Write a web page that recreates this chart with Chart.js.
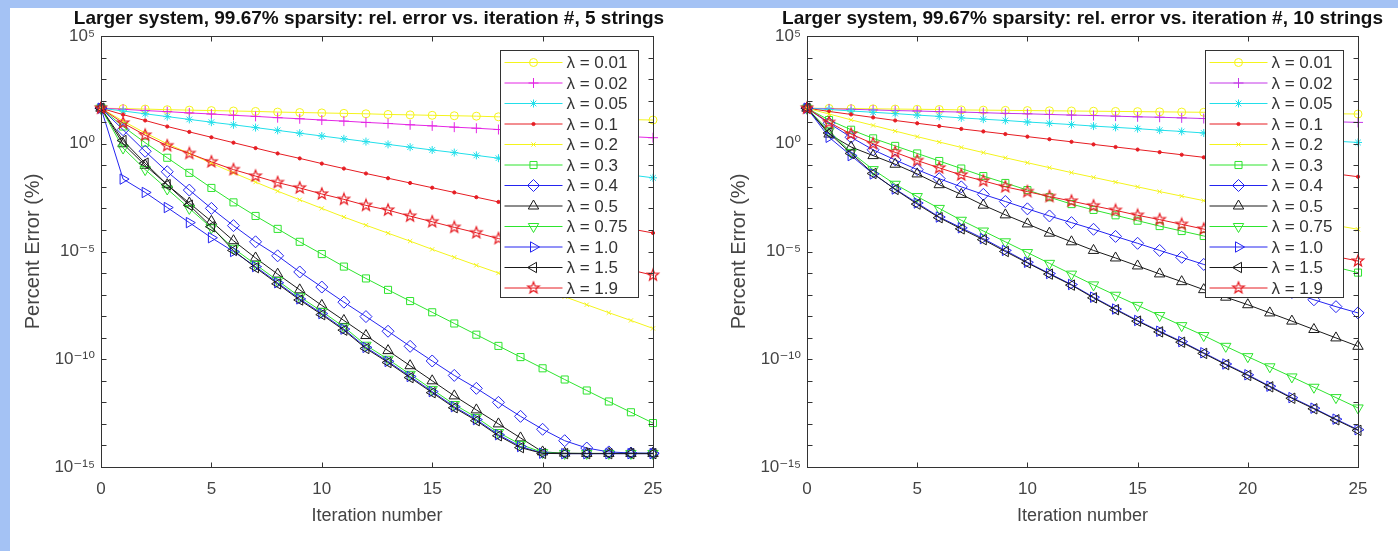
<!DOCTYPE html>
<html>
<head>
<meta charset="utf-8">
<script src="https://cdn.jsdelivr.net/npm/chart.js@4.4.0/dist/chart.umd.min.js"></script>
<style>
  html, body { margin: 0; padding: 0; }
  body { width: 1398px; height: 551px; background: #a4c2f4; position: relative; overflow: hidden; }
  #sheet { position: absolute; left: 10px; top: 8px; right: 0; bottom: 0; background: #fff; }
  canvas { position: absolute; top: 0; }
  #left { left: 0; }
  #right { left: 700px; }
</style>
</head>
<body>
<div id="sheet"></div>
<canvas id="left" width="700" height="551"></canvas>
<canvas id="right" width="698" height="551"></canvas>
<script>
// iteration numbers on the x axis
const iterations = [0, 1, 2, 3, 4, 5, 6, 7, 8, 9, 10, 11, 12, 13, 14, 15, 16, 17, 18, 19, 20, 21, 22, 23, 24, 25];
const lambdas = ['0.01', '0.02', '0.05', '0.1', '0.2', '0.3', '0.4', '0.5', '0.75', '1.0', '1.5', '1.9'];

// log10 of the percent error -- 5 strings
const s5_001 = [1.65, 1.63, 1.61, 1.58, 1.56, 1.54, 1.52, 1.5, 1.47, 1.45, 1.43, 1.41, 1.39, 1.36, 1.34, 1.32, 1.3, 1.28, 1.25, 1.23, 1.21, 1.19, 1.17, 1.14, 1.12, 1.1];
const s5_002 = [1.65, 1.6, 1.54, 1.49, 1.43, 1.38, 1.32, 1.27, 1.21, 1.16, 1.1, 1.05, 0.99, 0.94, 0.88, 0.83, 0.77, 0.72, 0.66, 0.61, 0.55, 0.5, 0.44, 0.39, 0.33, 0.28];
const s5_005 = [1.65, 1.52, 1.39, 1.26, 1.13, 1.0, 0.88, 0.75, 0.62, 0.49, 0.36, 0.23, 0.1, -0.03, -0.16, -0.29, -0.41, -0.54, -0.67, -0.8, -0.93, -1.06, -1.19, -1.32, -1.45, -1.58];
const s5_01 = [1.65, 1.35, 1.08, 0.8, 0.55, 0.3, 0.05, -0.2, -0.45, -0.68, -0.92, -1.15, -1.38, -1.6, -1.82, -2.04, -2.26, -2.48, -2.7, -2.92, -3.13, -3.34, -3.55, -3.75, -3.95, -4.14];
const s5_02 = [1.65, 1.05, 0.5, 0.0, -0.45, -0.9, -1.35, -1.78, -2.2, -2.6, -3.0, -3.4, -3.78, -4.15, -4.52, -4.9, -5.27, -5.64, -6.0, -6.37, -6.74, -7.1, -7.47, -7.84, -8.2, -8.57];
const s5_03 = [1.65, 0.8, 0.05, -0.65, -1.35, -2.05, -2.72, -3.35, -3.95, -4.55, -5.12, -5.7, -6.25, -6.78, -7.3, -7.82, -8.34, -8.86, -9.38, -9.9, -10.42, -10.94, -11.45, -11.96, -12.46, -12.96];
const s5_04 = [1.65, 0.65, -0.35, -1.3, -2.15, -3.0, -3.8, -4.55, -5.2, -5.95, -6.65, -7.35, -8.02, -8.7, -9.4, -10.08, -10.75, -11.35, -12.0, -12.65, -13.25, -13.78, -14.12, -14.3, -14.35, -14.36];
const s5_05 = [1.65, 0.0, -1.0, -1.9, -2.75, -3.6, -4.5, -5.3, -6.05, -6.78, -7.5, -8.2, -8.9, -9.6, -10.3, -11.0, -11.7, -12.35, -13.0, -13.65, -14.3, -14.36, -14.37, -14.37, -14.37, -14.37];
const s5_075 = [1.65, -0.2, -1.2, -2.1, -3.0, -3.9, -4.85, -5.6, -6.35, -7.1, -7.78, -8.5, -9.35, -10.0, -10.7, -11.4, -12.1, -12.7, -13.4, -13.95, -14.33, -14.37, -14.37, -14.37, -14.37, -14.37];
const s5_10 = [1.65, -1.64, -2.26, -2.96, -3.66, -4.36, -5.0, -5.7, -6.45, -7.2, -7.88, -8.6, -9.45, -10.1, -10.8, -11.5, -12.2, -12.8, -13.5, -14.05, -14.36, -14.38, -14.38, -14.38, -14.38, -14.38];
const s5_15 = [1.65, 0.15, -0.9, -1.9, -2.85, -3.85, -4.95, -5.75, -6.5, -7.25, -7.93, -8.65, -9.5, -10.15, -10.85, -11.55, -12.25, -12.85, -13.55, -14.1, -14.37, -14.38, -14.38, -14.38, -14.38, -14.38];
const s5_19 = [1.65, 0.96, 0.4, -0.09, -0.45, -0.84, -1.2, -1.5, -1.8, -2.05, -2.33, -2.58, -2.86, -3.08, -3.36, -3.62, -3.88, -4.13, -4.4, -4.65, -4.9, -5.14, -5.38, -5.62, -5.86, -6.1];

// log10 of the percent error -- 10 strings
const s10_001 = [1.65, 1.64, 1.63, 1.62, 1.61, 1.6, 1.59, 1.57, 1.56, 1.55, 1.54, 1.53, 1.52, 1.51, 1.5, 1.49, 1.48, 1.47, 1.46, 1.44, 1.43, 1.42, 1.41, 1.4, 1.39, 1.38];
const s10_002 = [1.65, 1.62, 1.6, 1.57, 1.54, 1.52, 1.49, 1.47, 1.44, 1.41, 1.39, 1.36, 1.33, 1.31, 1.28, 1.25, 1.23, 1.2, 1.17, 1.15, 1.12, 1.1, 1.07, 1.04, 1.02, 0.99];
const s10_005 = [1.65, 1.59, 1.52, 1.46, 1.4, 1.33, 1.27, 1.2, 1.14, 1.08, 1.01, 0.95, 0.89, 0.82, 0.76, 0.7, 0.63, 0.57, 0.5, 0.44, 0.38, 0.31, 0.25, 0.19, 0.12, 0.06];
const s10_01 = [1.65, 1.5, 1.36, 1.22, 1.08, 0.95, 0.82, 0.69, 0.57, 0.45, 0.33, 0.21, 0.09, -0.03, -0.15, -0.27, -0.39, -0.51, -0.63, -0.75, -0.88, -1.01, -1.14, -1.27, -1.4, -1.53];
const s10_02 = [1.65, 1.38, 1.11, 0.85, 0.59, 0.33, 0.08, -0.17, -0.41, -0.65, -0.88, -1.11, -1.34, -1.56, -1.78, -2.0, -2.22, -2.43, -2.64, -2.84, -3.04, -3.23, -3.42, -3.61, -3.79, -3.97];
const s10_03 = [1.65, 1.1, 0.65, 0.25, -0.1, -0.45, -0.8, -1.15, -1.5, -1.82, -2.15, -2.48, -2.8, -3.07, -3.32, -3.57, -3.82, -4.05, -4.28, -4.52, -4.76, -5.0, -5.24, -5.48, -5.73, -5.98];
const s10_04 = [1.65, 0.95, 0.3, -0.28, -0.75, -1.2, -1.62, -2.0, -2.35, -2.68, -3.02, -3.35, -3.66, -3.97, -4.3, -4.62, -4.95, -5.27, -5.6, -5.92, -6.24, -6.56, -6.9, -7.24, -7.56, -7.85];
const s10_05 = [1.65, 0.45, -0.15, -0.55, -0.95, -1.4, -1.9, -2.35, -2.85, -3.3, -3.72, -4.15, -4.55, -4.95, -5.3, -5.67, -6.04, -6.4, -6.77, -7.12, -7.47, -7.85, -8.23, -8.62, -9.01, -9.4];
const s10_075 = [1.65, 0.6, -0.4, -1.2, -1.88, -2.45, -3.0, -3.55, -4.05, -4.55, -5.05, -5.55, -6.05, -6.55, -7.03, -7.5, -7.97, -8.44, -8.9, -9.4, -9.88, -10.35, -10.82, -11.3, -11.78, -12.26];
const s10_10 = [1.65, 0.3, -0.55, -1.4, -2.1, -2.75, -3.4, -3.9, -4.4, -4.95, -5.5, -6.02, -6.53, -7.12, -7.67, -8.2, -8.7, -9.18, -9.7, -10.22, -10.72, -11.25, -11.78, -12.27, -12.78, -13.27];
const s10_15 = [1.65, 0.5, -0.45, -1.38, -2.12, -2.8, -3.43, -3.95, -4.45, -5.0, -5.53, -6.05, -6.56, -7.15, -7.7, -8.23, -8.73, -9.21, -9.73, -10.25, -10.75, -11.28, -11.81, -12.3, -12.81, -13.3];
const s10_19 = [1.65, 0.99, 0.45, 0.0, -0.4, -0.78, -1.12, -1.45, -1.72, -2.0, -2.22, -2.45, -2.66, -2.88, -3.09, -3.32, -3.52, -3.74, -3.96, -4.18, -4.4, -4.62, -4.83, -5.03, -5.24, -5.44];

const yTickExponents = [5, 0, -5, -10, -15];

const strings5 = [s5_001, s5_002, s5_005, s5_01, s5_02, s5_03, s5_04, s5_05, s5_075, s5_10, s5_15, s5_19];
const strings10 = [s10_001, s10_002, s10_005, s10_01, s10_02, s10_03, s10_04, s10_05, s10_075, s10_10, s10_15, s10_19];

const FONT = '"Liberation Sans", Arial, "DejaVu Sans", sans-serif';
Chart.defaults.font.family = FONT;

function pentagram(color, r) {
    const c = document.createElement('canvas');
    const s = Math.ceil(r * 2 + 4);
    c.width = c.height = s;
    const g = c.getContext('2d');
    g.strokeStyle = color;
    g.lineWidth = 1.2;
    g.beginPath();
    for (let k = 0; k < 10; k++) {
        const a = -Math.PI / 2 + k * Math.PI / 5;
        const rr = k % 2 ? r * 0.42 : r;
        g.lineTo(s / 2 + rr * Math.cos(a), s / 2 + rr * Math.sin(a));
    }
    g.closePath();
    g.stroke();
    return c;
}

const colors5 = ['#f4f41c', '#e426e4', '#22dfea', '#e61c22', '#f4f41c', '#2ee42e', '#2424f0', '#1a1a1a', '#2ee42e', '#2424f0', '#1a1a1a', '#e61c22'];
const colors10 = ['#f4f41c', '#c436e8', '#22dfea', '#e61c22', '#f4f41c', '#2ee42e', '#2424f0', '#1a1a1a', '#2ee42e', '#2424f0', '#1a1a1a', '#e61c22'];
const markers = [
    { style: 'circle', r: 4 },
    { style: 'cross', r: 5 },
    { style: 'star', r: 4 },
    { style: 'circle', r: 1.6, fill: true },
    { style: 'crossRot', r: 3 },
    { style: 'rect', r: 5 },
    { style: 'rectRot', r: 6 },
    { style: 'triangle', r: 6 },
    { style: 'triangle', r: 6, rot: 180 },
    { style: 'triangle', r: 6, rot: 90 },
    { style: 'triangle', r: 6, rot: -90 },
    { style: pentagram('#e61c22', 6), r: 6 }
];

function supText(n) {
    const map = { '-': '\u207b', '0': '\u2070', '1': '\u00b9', '2': '\u00b2', '3': '\u00b3', '4': '\u2074', '5': '\u2075', '6': '\u2076', '7': '\u2077', '8': '\u2078', '9': '\u2079' };
    return String(n).split('').map(ch => map[ch]).join('');
}

function buildDatasets(series, colors) {
    return series.map((vals, i) => ({
        label: '\u03bb = ' + lambdas[i],
        data: iterations.map((it, k) => ({ x: it, y: vals[k] })),
        borderColor: colors[i],
        borderWidth: 1,
        pointStyle: markers[i].style,
        pointRadius: markers[i].r,
        pointRotation: markers[i].rot || 0,
        pointBorderColor: colors[i],
        pointBackgroundColor: markers[i].fill ? colors[i] : 'rgba(0,0,0,0)',
        pointBorderWidth: 1,
        tension: 0,
        clip: false,
        order: -i
    }));
}

function drawMarker(ctx, i, color, x, y) {
    const m = markers[i];
    ctx.strokeStyle = color;
    ctx.fillStyle = m.fill ? color : 'rgba(0,0,0,0)';
    ctx.lineWidth = 1;
    if (Chart.helpers && Chart.helpers.drawPoint) {
        Chart.helpers.drawPoint(ctx, { pointStyle: m.style, rotation: m.rot || 0, radius: m.r, borderWidth: 1 }, x, y);
    }
}

function framePlugin(titleText, titleShift) {
    return {
        id: 'octaveFrame',
        afterDraw(chart) {
            const { ctx, chartArea: a, scales } = chart;
            const xs = scales.x, ys = scales.y;
            ctx.save();
            ctx.strokeStyle = '#333';
            ctx.lineWidth = 1;
            const L = Math.round(a.left) + 0.5, R = Math.round(a.right) + 0.5;
            const T = Math.round(a.top) + 0.5, B = Math.round(a.bottom) + 0.5;
            ctx.strokeRect(L, T, R - L, B - T);
            ctx.beginPath();
            ys.ticks.forEach(t => {
                const py = Math.round(ys.getPixelForValue(t.value)) + 0.5;
                ctx.moveTo(L, py); ctx.lineTo(L + 5, py);
                ctx.moveTo(R, py); ctx.lineTo(R - 5, py);
            });
            xs.ticks.forEach(t => {
                const px = Math.round(xs.getPixelForValue(t.value)) + 0.5;
                ctx.moveTo(px, B); ctx.lineTo(px, B - 5);
                ctx.moveTo(px, T); ctx.lineTo(px, T + 5);
            });
            ctx.stroke();

            // title
            ctx.fillStyle = '#111';
            ctx.font = 'bold 19px ' + FONT;
            ctx.textAlign = 'center';
            ctx.textBaseline = 'middle';
            ctx.fillText(titleText, (a.left + a.right) / 2 + titleShift, 19);

            // legend box
            const bw = 138, bh = 247;
            const bx = Math.round(a.right - 15 - bw) + 0.5, by = Math.round(a.top + 14) + 0.5;
            ctx.fillStyle = '#fff';
            ctx.fillRect(bx, by, bw, bh);
            ctx.strokeStyle = '#333';
            ctx.strokeRect(bx, by, bw, bh);
            ctx.font = '17px ' + FONT;
            ctx.textAlign = 'left';
            chart.data.datasets.forEach((ds, i) => {
                const ry = by + 12 + i * 20.5;
                ctx.strokeStyle = ds.borderColor;
                ctx.lineWidth = 1;
                ctx.beginPath();
                ctx.moveTo(bx + 4, ry); ctx.lineTo(bx + 62, ry);
                ctx.stroke();
                drawMarker(ctx, i, ds.borderColor, bx + 33, ry);
                ctx.fillStyle = '#333';
                ctx.fillText(ds.label, bx + 66, ry + 1);
            });
            ctx.restore();
        }
    };
}

function makeChart(id, series, colors, title, titleShift, padRight, yWidth, yTitlePad) {
    new Chart(document.getElementById(id).getContext('2d'), {
        type: 'line',
        data: { datasets: buildDatasets(series, colors) },
        options: {
            responsive: false,
            animation: false,
            devicePixelRatio: 1,
            layout: { padding: { top: 36, left: 10, right: padRight, bottom: 0 } },
            plugins: { legend: { display: false }, tooltip: { enabled: false }, title: { display: false } },
            scales: {
                x: {
                    type: 'linear', min: 0, max: 25,
                    grid: { display: false, drawTicks: false },
                    border: { display: false },
                    ticks: { stepSize: 5, padding: 12, color: '#444', font: { size: 17 }, maxRotation: 0 },
                    title: { display: true, text: 'Iteration number', color: '#444', font: { size: 18 }, padding: { top: 0, bottom: 24 } },
                    afterFit(s) { s.height = 84; }
                },
                y: {
                    type: 'linear', min: -15, max: 5,
                    grid: { display: false, drawTicks: false },
                    border: { display: false },
                    ticks: {
                        stepSize: 1, autoSkip: false, padding: 6, color: '#444', font: { size: 17 },
                        callback: v => yTickExponents.includes(v) ? '10' + supText(v) : ''
                    },
                    title: { display: true, text: 'Percent Error (%)', color: '#444', font: { size: 20 }, padding: { top: yTitlePad, bottom: 0 } },
                    afterFit(s) { s.width = yWidth; }
                }
            }
        },
        plugins: [framePlugin(title, titleShift)]
    });
}

makeChart('left', strings5, colors5, 'Larger system, 99.67% sparsity: rel. error vs. iteration #, 5 strings', -8, 47, 91, 11);
makeChart('right', strings10, colors10, 'Larger system, 99.67% sparsity: rel. error vs. iteration #, 10 strings', 0, 40, 97, 17);
</script>
</body>
</html>
